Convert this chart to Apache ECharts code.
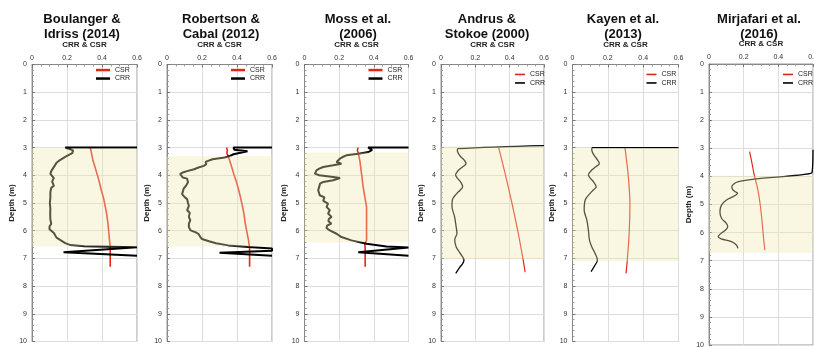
<!DOCTYPE html>
<html><head><meta charset="utf-8">
<script src="https://cdn.jsdelivr.net/npm/echarts@6/dist/echarts.min.js"></script>
<style>html,body{margin:0;padding:0;background:#fff}#c{width:814px;height:347px}</style>
</head><body><div id="c"></div><script>
// ---- data ----
const titles = ['Boulanger &\nIdriss (2014)', 'Robertson &\nCabal (2012)', 'Moss et al.\n(2006)',
  'Andrus &\nStokoe (2000)', 'Kayen et al.\n(2013)', 'Mirjafari et al.\n(2016)'];
const seriesNames = ['CSR', 'CRR'];
const xAxisTitle = 'CRR & CSR';
const yAxisTitle = 'Depth (m)';
// liquefiable zone (depth, m)
const zoneTop = [3.03, 3.31, 3.18, 2.95, 3.02, 3.98];
const zoneBottom = [6.57, 6.57, 6.42, 7.03, 7.1, 6.72];

// [depth, value]
const crr1 = [[3.0,0.6],[3.0,0.19],[3.05,0.2],[3.1,0.235],[3.2,0.23],[3.25,0.225],[3.3,0.2],[3.35,0.185],[3.45,0.16],[3.55,0.14],[3.65,0.13],[3.75,0.12],[3.85,0.11],[3.95,0.105],[4.02,0.11],[4.1,0.125],[4.15,0.13],[4.22,0.115],[4.3,0.12],[4.38,0.125],[4.45,0.11],[4.6,0.105],[4.8,0.105],[5.0,0.102],[5.2,0.105],[5.4,0.104],[5.6,0.105],[5.75,0.11],[5.85,0.1],[5.95,0.1],[6.02,0.11],[6.08,0.125],[6.15,0.13],[6.25,0.14],[6.35,0.165],[6.45,0.19],[6.52,0.22],[6.56,0.3],[6.6,0.6],[6.64,0.6],[6.78,0.18],[6.81,0.19],[6.9,0.6]];
const csr1 = [[3.0,0.333],[3.2,0.34],[3.46,0.348],[3.7,0.36],[3.94,0.371],[4.2,0.383],[4.54,0.396],[4.8,0.408],[5.14,0.419],[5.4,0.427],[5.74,0.434],[6.0,0.438],[6.35,0.443],[6.65,0.447],[7.3,0.447]];

const crr2 = [[3.0,0.6],[3.0,0.38],[3.08,0.385],[3.13,0.46],[3.18,0.455],[3.24,0.38],[3.3,0.36],[3.36,0.33],[3.42,0.26],[3.48,0.235],[3.52,0.22],[3.6,0.225],[3.66,0.21],[3.72,0.18],[3.78,0.155],[3.85,0.115],[3.9,0.09],[3.95,0.075],[4.02,0.08],[4.08,0.09],[4.12,0.115],[4.18,0.105],[4.25,0.12],[4.3,0.13],[4.36,0.11],[4.48,0.095],[4.6,0.09],[4.68,0.086],[4.78,0.1],[4.86,0.115],[5.0,0.12],[5.1,0.125],[5.26,0.115],[5.35,0.13],[5.5,0.125],[5.62,0.133],[5.75,0.125],[5.87,0.125],[5.99,0.135],[6.06,0.165],[6.12,0.18],[6.22,0.19],[6.3,0.2],[6.38,0.24],[6.45,0.28],[6.53,0.35],[6.59,0.466],[6.64,0.6],[6.72,0.6],[6.8,0.3],[6.83,0.29],[6.9,0.6]];
const csr2 = [[3.0,0.34],[3.05,0.335],[3.1,0.345],[3.2,0.342],[3.28,0.348],[3.6,0.365],[3.94,0.381],[4.2,0.395],[4.54,0.41],[4.8,0.42],[5.14,0.432],[5.4,0.44],[5.74,0.447],[6.0,0.455],[6.35,0.466],[6.65,0.472],[7.3,0.472]];

const crr3 = [[3.0,0.6],[3.0,0.367],[3.04,0.37],[3.08,0.39],[3.12,0.385],[3.16,0.37],[3.19,0.36],[3.22,0.31],[3.28,0.242],[3.34,0.22],[3.4,0.204],[3.46,0.213],[3.52,0.185],[3.58,0.213],[3.64,0.165],[3.7,0.108],[3.76,0.085],[3.82,0.069],[3.88,0.062],[3.94,0.06],[4.0,0.085],[4.06,0.165],[4.1,0.205],[4.14,0.21],[4.18,0.165],[4.24,0.108],[4.3,0.09],[4.36,0.079],[4.54,0.079],[4.72,0.088],[4.8,0.115],[4.86,0.117],[4.92,0.108],[5.02,0.136],[5.14,0.127],[5.26,0.146],[5.38,0.136],[5.5,0.156],[5.58,0.14],[5.66,0.138],[5.74,0.155],[5.82,0.13],[5.9,0.127],[5.99,0.146],[6.11,0.185],[6.23,0.213],[6.35,0.271],[6.47,0.358],[6.57,0.473],[6.61,0.6],[6.66,0.6],[6.78,0.31],[6.81,0.32],[6.9,0.6]];
const csr3 = [[3.0,0.309],[3.1,0.305],[3.2,0.31],[3.46,0.319],[3.94,0.329],[4.4,0.338],[4.78,0.348],[5.14,0.358],[5.8,0.358],[6.35,0.358],[6.47,0.348],[6.65,0.35],[7.3,0.35]];

const crr4 = [[2.93,0.6],[3.04,0.1],[3.1,0.095],[3.2,0.1],[3.33,0.115],[3.45,0.135],[3.57,0.146],[3.7,0.125],[3.81,0.103],[3.99,0.085],[4.1,0.095],[4.25,0.115],[4.41,0.126],[4.55,0.11],[4.65,0.093],[4.89,0.066],[5.13,0.064],[5.49,0.079],[5.85,0.088],[6.09,0.093],[6.33,0.08],[6.58,0.088],[6.82,0.112],[7.06,0.134],[7.2,0.125],[7.3,0.112],[7.54,0.086]];
const csr4 = [[3.0,0.336],[4.0,0.376],[5.0,0.413],[6.0,0.447],[7.0,0.477],[7.5,0.49]];

const crr5 = [[3.0,0.6],[3.0,0.113],[3.08,0.109],[3.2,0.115],[3.33,0.128],[3.45,0.142],[3.57,0.152],[3.7,0.13],[3.81,0.109],[3.99,0.09],[4.1,0.1],[4.23,0.118],[4.41,0.134],[4.53,0.118],[4.65,0.1],[4.89,0.072],[5.25,0.066],[5.61,0.081],[5.98,0.09],[6.34,0.096],[6.58,0.109],[6.82,0.128],[7.06,0.141],[7.24,0.128],[7.48,0.105]];
const csr5 = [[3.0,0.297],[4.05,0.316],[5.05,0.325],[6.06,0.321],[7.06,0.31],[7.54,0.303]];

const crr6 = [[3.05,0.6],[3.85,0.595],[3.92,0.56],[4.0,0.44],[4.07,0.3],[4.13,0.22],[4.19,0.17],[4.26,0.145],[4.36,0.132],[4.45,0.135],[4.55,0.152],[4.6,0.165],[4.66,0.155],[4.72,0.139],[4.84,0.101],[5.02,0.072],[5.26,0.063],[5.49,0.072],[5.67,0.1],[5.79,0.108],[5.88,0.1],[5.97,0.082],[6.08,0.06],[6.15,0.053],[6.22,0.07],[6.32,0.13],[6.44,0.158],[6.56,0.167]];
const csr6 = [[3.12,0.234],[3.5,0.247],[3.89,0.259],[4.48,0.282],[5.08,0.297],[5.67,0.307],[6.27,0.316],[6.62,0.322]];

const crrAll = [crr1, crr2, crr3, crr4, crr5, crr6];
const csrAll = [csr1, csr2, csr3, csr4, csr5, csr6];

// ---- layout ----
const L = [32, 167, 304.5, 441, 572.5, 709];
const Wd = [105, 105, 104, 103, 106, 104];
const T = [64.5, 64.5, 64.5, 64.5, 64.5, 64];
const H = [277, 277, 277, 277, 277, 281];
const titleX = [82, 221, 358, 487, 623, 759];
const FONT = 'Liberation Sans, Arial, sans-serif';
const RED = '#e3261b';

const chart = echarts.init(document.getElementById('c'), null, {renderer: 'canvas'});
const toXY = arr => arr.map(p => [p[1], p[0]]);

const option = {
  animation: false,
  backgroundColor: '#fff',
  textStyle: {fontFamily: FONT},
  title: titles.map((t, i) => ({
    text: t, left: titleX[i], top: 12.5, textAlign: 'center', padding: 0,
    textStyle: {fontSize: 13, fontWeight: 'bold', lineHeight: 14.5, color: '#111', fontFamily: FONT}
  })),
  legend: titles.map((t, i) => ({
    left: L[i] + (i < 3 ? 64 : 74), top: i < 3 ? 65.8 : 70.2,
    orient: 'vertical', padding: 0, itemGap: 0,
    itemWidth: i < 3 ? 14 : 10, itemHeight: i < 3 ? 2.5 : 1.6,
    icon: 'rect', selectedMode: false,
    textStyle: {fontSize: 7, lineHeight: 8.5, color: '#222', fontFamily: FONT},
    data: seriesNames
  })),
  grid: titles.map((t, i) => ({
    left: L[i], top: T[i], width: Wd[i], height: H[i],
    show: true, borderColor: '#999', borderWidth: 1, backgroundColor: 'transparent',
    containLabel: false, outerBoundsMode: 'none'
  })),
  xAxis: titles.map((t, i) => ({
    gridIndex: i, type: 'value', position: 'top', min: 0, max: 0.6, interval: 0.2,
    name: xAxisTitle, nameLocation: 'middle', nameGap: 16,
    nameTextStyle: {fontSize: 8, fontWeight: 'bold', color: '#222', fontFamily: FONT},
    axisLine: {show: true, lineStyle: {color: '#888'}},
    axisTick: {show: true, inside: true, length: 3, lineStyle: {color: '#777'}},
    minorTick: {show: true, splitNumber: 4, length: 2, lineStyle: {color: '#999'}},
    axisLabel: {fontSize: 7, margin: 3, color: '#333', fontFamily: FONT},
    splitLine: {show: true, lineStyle: {color: '#ddd', width: 1}}
  })),
  yAxis: titles.map((t, i) => ({
    gridIndex: i, type: 'value', inverse: true, min: 0, max: 10, interval: 1,
    name: yAxisTitle, nameLocation: 'middle', nameGap: 15,
    nameTextStyle: {fontSize: 8, fontWeight: 'bold', color: '#222', fontFamily: FONT},
    axisLine: {show: true, lineStyle: {color: '#888'}},
    axisTick: {show: true, inside: true, length: 3, lineStyle: {color: '#777'}},
    minorTick: {show: true, splitNumber: 5, length: 2, lineStyle: {color: '#999'}},
    axisLabel: {fontSize: 7, margin: 5, color: '#333', fontFamily: FONT},
    splitLine: {show: true, lineStyle: {color: '#ddd', width: 1}}
  })),
  series: []
};

titles.forEach((t, i) => {
  const smooth = i >= 3 ? 0.35 : false;
  option.series.push({
    type: 'line', name: 'CSR', xAxisIndex: i, yAxisIndex: i,
    data: toXY(csrAll[i]), symbol: 'none', showSymbol: false, smooth: smooth,
    lineStyle: {color: RED, width: i < 3 ? 1.6 : 1.2}, itemStyle: {color: RED}, z: 3
  });
  option.series.push({
    type: 'line', name: 'CRR', xAxisIndex: i, yAxisIndex: i,
    data: toXY(crrAll[i]), symbol: 'none', showSymbol: false, smooth: smooth,
    lineStyle: {color: '#000', width: i < 3 ? 2 : 1.3}, itemStyle: {color: '#000'}, z: 3,
    markArea: {
      silent: true, z: 6,
      itemStyle: {color: 'rgba(238,234,175,0.36)', borderWidth: 0},
      data: [[{yAxis: zoneTop[i]}, {yAxis: zoneBottom[i]}]]
    }
  });
});

chart.setOption(option);
</script></body></html>
